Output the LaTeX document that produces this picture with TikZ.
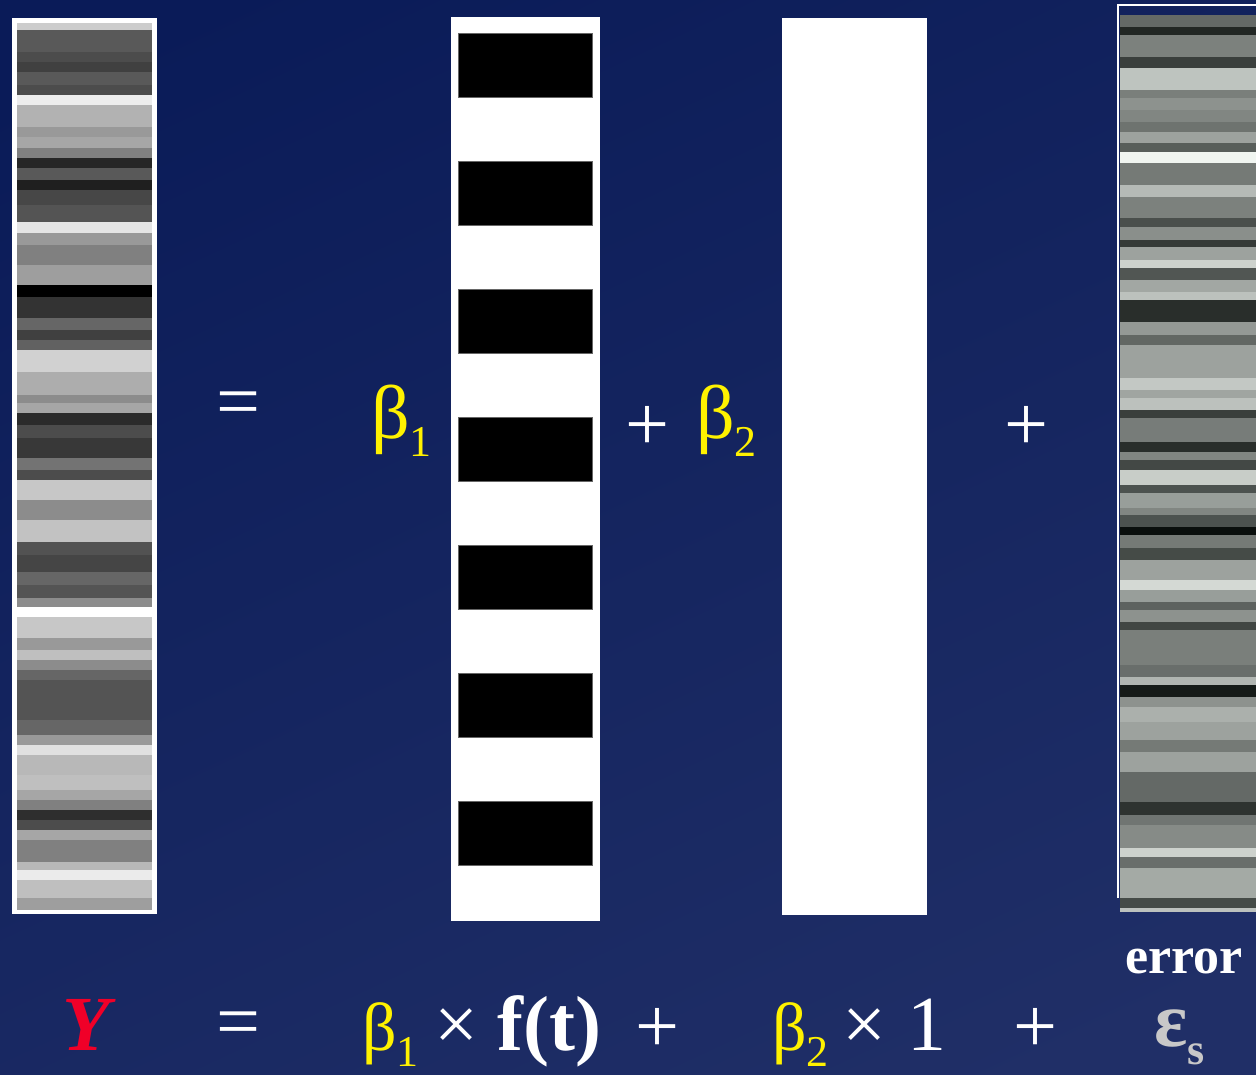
\documentclass[tikz,border=0pt]{standalone}
\usepackage{fontspec}
\setmainfont{Liberation Serif}
\definecolor{bgA}{RGB}{10,27,88}
\definecolor{bgB}{RGB}{32,47,103}
\definecolor{errlight}{rgb}{0.97,0.99,0.97}
\definecolor{errdark}{rgb}{0.04,0.06,0.05}
\definecolor{yred}{RGB}{240,0,40}
\definecolor{epsgray}{RGB}{200,200,200}
\newcommand\subx[1]{\raisebox{-0.24em}{\fontsize{44}{46}\selectfont #1}}
\tikzset{
  big/.style={font=\fontsize{78}{80}\selectfont, inner sep=0pt},
  beta/.style={font=\fontsize{76}{80}\selectfont, inner sep=0pt},
  colbox/.style={fill=white},
  fblock/.style={fill=black, draw=black!60, line width=0.6pt}
}
\begin{document}
\begin{tikzpicture}[x=1pt,y=-1pt]
\useasboundingbox (0,0) rectangle (1256,1074);
\shade[top color=bgA, bottom color=bgB, shading angle=25] (-100,-100) rectangle (1356,1174);
% left column Y
\fill[colbox] (12,18) rectangle (157,914);
\foreach \a/\b/\v in {23/30/80, 30/52/35, 52/62/30, 62/72/25, 72/85/35, 85/95/30, 95/105/93, 105/127/70, 127/137/60, 137/148/65, 148/158/50, 158/168/15, 168/180/35, 180/190/12, 190/205/28, 205/222/33, 222/233/90, 233/245/60, 245/265/50, 265/285/62, 285/297/0, 297/318/20, 318/330/40, 330/340/25, 340/350/38, 350/372/82, 372/395/68, 395/403/55, 403/413/65, 413/425/17, 425/438/30, 438/458/22, 458/470/45, 470/480/30, 480/500/78, 500/520/55, 520/542/76, 542/555/32, 555/572/27, 572/585/40, 585/598/33, 598/607/55, 617/638/78, 638/650/60, 650/660/75, 660/670/55, 670/680/40, 680/720/33, 720/735/40, 735/745/60, 745/755/88, 755/775/72, 775/790/75, 790/800/65, 800/810/50, 810/820/18, 820/830/30, 830/840/65, 840/862/50, 862/870/72, 870/880/92, 880/898/75, 898/910/62}
  {\fill[white!\v!black] (17,\a) rectangle (152,\b);}
% f(t) column
\fill[colbox] (451,17) rectangle (600,921);
\foreach \k in {0,...,6}
  {\path[fblock] (458,33+128*\k) rectangle (592,97+128*\k);}
% constant column
\fill[colbox] (782,18) rectangle (927,915);
% error column
\draw[white, line width=2pt] (1118,898) -- (1118,5) -- (1256,5);
\foreach \a/\b/\v in {15/27/38, 27/35/10, 35/57/48, 57/68/20, 68/90/76, 90/98/47, 98/110/55, 110/122/50, 122/132/42, 132/143/62, 143/152/33, 152/163/97, 163/185/45, 185/197/72, 197/218/48, 218/227/27, 227/240/54, 240/247/18, 247/260/62, 260/268/82, 268/280/30, 280/292/64, 292/300/75, 300/322/13, 322/335/58, 335/345/37, 345/378/62, 378/390/78, 390/398/63, 398/410/75, 410/418/20, 418/442/46, 442/452/13, 452/460/50, 460/470/24, 470/485/80, 485/493/28, 493/508/60, 508/515/50, 515/527/28, 527/535/0, 535/548/45, 548/560/25, 560/580/62, 580/590/85, 590/602/60, 602/610/35, 610/622/55, 622/630/23, 630/665/47, 665/677/40, 677/685/70, 685/697/5, 697/707/55, 707/722/68, 722/740/62, 740/752/45, 752/772/62, 772/802/38, 802/815/15, 815/825/43, 825/848/52, 848/857/82, 857/868/40, 868/898/65, 898/908/25, 908/912/75}
  {\fill[errlight!\v!errdark] (1120,\a) rectangle (1256,\b);}
% middle row
\node[big,white] (eq1) at (238,410) {=};
\node[beta,yellow,anchor=base west] (b1) at (371,438) {β\subx{1}};
\node[big,white] (p1) at (647,428) {+};
\node[beta,yellow,anchor=base west] (b2) at (696,438) {β\subx{2}};
\node[big,white] (p2) at (1026,428) {+};
\node[font=\bfseries\fontsize{52}{54}\selectfont, white, inner sep=0pt, anchor=base] (err) at (1184,973) {error};
% bottom row
\node[big,yred,anchor=base] (Y) at (89,1050) {\textbf{\textit{Y}}};
\node[big,white] (eq2) at (238,1030) {=};
\node[big,white,anchor=base west] (t1) at (362,1050) {\textcolor{yellow}{\fontsize{68}{70}\selectfont β\subx{1}}\hspace{0.2em}×\hspace{0.245em}\textbf{f(t)}};
\node[big,white] (p3) at (657,1030) {+};
\node[big,white,anchor=base west] (t2) at (772,1050) {\textcolor{yellow}{\fontsize{68}{70}\selectfont β\subx{2}}\hspace{0.18em}×\hspace{0.27em}1};
\node[big,white] (p4) at (1035,1030) {+};
\node[big,epsgray,anchor=base west] (eps) at (1154,1046) {\textbf{ε\subx{s}}};
\end{tikzpicture}
\end{document}
